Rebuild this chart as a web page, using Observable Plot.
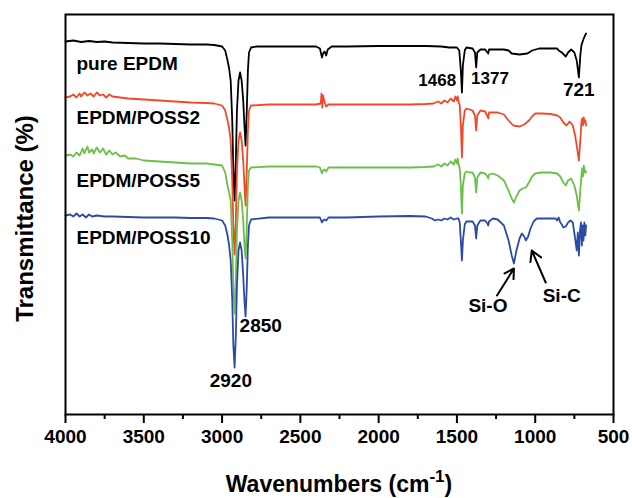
<!DOCTYPE html>
<html>
<head>
<meta charset="utf-8">
<script src="https://cdn.jsdelivr.net/npm/d3@7"></script>
<script src="https://cdn.jsdelivr.net/npm/@observablehq/plot@0.6"></script>
<style>
  body { margin: 0; background: #fff; font-family: "Liberation Sans", Arial, sans-serif; }
  #chart { position: relative; width: 632px; height: 498px; }
  #xtitle { position: absolute; left: 0; top: 473px; width: 632px; box-sizing: border-box; padding-left: 65px; padding-right: 19px; text-align: center;
            font-weight: bold; font-size: 23px; line-height: 23px; color: #000; white-space: nowrap; }
  #xtitle sup { font-size: 17px; vertical-align: baseline; position: relative; top: -10px; }
</style>
</head>
<body>
<div id="chart"></div>
<script>
// ---- Data (wavenumber cm^-1, offset transmittance in arbitrary units) ----
const seriesNames = ["pure EPDM", "EPDM/POSS2", "EPDM/POSS5", "EPDM/POSS10"];
const seriesColors = ["#000000", "#f04a2a", "#6cbf48", "#2c4aa6"];

const pureEPDM = [[4000,381],[3950,382],[3900,380.5],[3850,381.5],[3800,380.5],[3750,381],[3700,380],[3600,379.5],[3500,379],[3400,379],[3300,378.5],[3200,378],[3100,378],[3050,377.5],[3000,376],[2980,372],[2965,362],[2955,354],[2945,342],[2935,302],[2928,252],[2920,222],[2912,262],[2905,312],[2895,342],[2885,350],[2875,342],[2865,322],[2857,297],[2850,277],[2843,307],[2835,352],[2828,370],[2815,375],[2780,376],[2700,376],[2500,376],[2400,376],[2375,374],[2362,365],[2355,369],[2345,371],[2335,367],[2325,373],[2300,376],[2200,376],[2000,376.5],[1800,376.5],[1700,376.5],[1600,376],[1550,375],[1500,375],[1485,372],[1475,352],[1468,330],[1462,357],[1450,372],[1440,375],[1400,374],[1385,370],[1377,355],[1370,370],[1350,373],[1320,373],[1305,370],[1300,369],[1295,373],[1250,373],[1200,373],[1170,372],[1150,369],[1100,368],[1050,369],[1020,372],[975,374],[900,374],[860,374],[850,372],[830,370],[805,366],[790,370],[770,373],[750,370],[735,362],[721,345],[712,367],[705,377],[695,382],[685,386],[675,389]];

const poss2 = [[4000,325],[3970,326],[3950,328],[3930,325],[3910,329],[3900,326],[3880,330],[3860,327],[3840,329],[3820,326],[3800,330],[3780,327],[3760,328],[3740,325],[3720,328],[3700,326],[3650,325],[3600,324],[3500,323],[3400,322],[3300,321],[3200,320],[3100,319.5],[3050,319],[3000,317],[2980,312],[2965,302],[2955,294],[2945,282],[2935,242],[2928,197],[2920,168],[2912,202],[2905,252],[2895,282],[2885,290],[2875,282],[2865,262],[2857,237],[2850,217],[2843,247],[2835,292],[2828,312],[2815,317],[2700,318],[2500,318],[2400,318],[2370,319],[2365,329],[2360,315],[2355,327],[2345,320],[2335,316],[2320,318],[2200,318],[2000,318],[1800,318],[1700,318.5],[1650,319],[1620,321],[1600,319],[1580,322],[1560,320],[1540,324],[1520,321],[1510,326],[1500,322],[1495,326],[1490,321],[1482,317],[1475,297],[1468,265],[1462,297],[1450,312],[1440,314],[1420,313],[1400,312],[1385,307],[1377,292],[1370,307],[1350,312],[1320,311],[1305,306],[1300,304],[1295,310],[1270,310],[1240,310],[1200,308],[1170,302],[1140,297],[1100,296],[1070,298],[1040,302],[1020,306],[1000,309],[960,309],[900,308.5],[860,307],[840,305],[820,300],[800,297],[780,301],[760,297],[745,287],[730,272],[721,262],[712,282],[705,300],[700,304],[695,297],[690,305],[685,300],[680,302],[675,297]];

const poss5 = [[4000,267],[3970,268],[3950,266],[3930,270],[3910,267],[3890,274],[3880,269],[3860,276],[3850,270],[3830,273],[3820,269],[3800,275],[3780,270],[3760,274],[3740,268],[3720,272],[3700,268],[3680,270],[3650,266],[3620,267],[3600,264],[3550,264],[3500,262],[3400,261],[3300,260],[3200,259],[3100,259],[3050,258],[3000,257],[2980,250],[2965,237],[2955,230],[2945,222],[2935,182],[2928,137],[2920,109],[2912,142],[2905,192],[2895,222],[2885,230],[2875,222],[2865,202],[2857,177],[2850,164],[2843,192],[2835,237],[2828,252],[2815,255],[2700,256],[2500,256],[2400,256],[2375,255],[2362,249],[2355,252],[2345,253],[2335,251],[2320,255],[2200,255],[2000,255],[1800,255],[1700,255.5],[1650,256],[1620,258],[1600,256],[1580,259],[1560,257],[1540,261],[1520,258],[1510,263],[1500,259],[1495,264],[1490,259],[1482,254],[1475,237],[1468,209],[1462,237],[1450,249],[1440,251],[1420,250],[1400,250],[1385,245],[1377,230],[1370,245],[1350,250],[1320,249],[1305,246],[1300,244],[1295,248],[1270,249],[1240,247],[1200,242],[1170,232],[1150,224],[1136,220],[1120,226],[1100,232],[1080,234],[1060,235],[1040,240],[1020,246],[1000,249],[960,250],[900,250],[860,249],[840,246],[820,240],[805,237],[790,242],[770,244],[750,237],[735,227],[721,212],[712,232],[705,247],[700,254],[695,246],[690,257],[685,250],[680,252],[675,250]];

const poss10 = [[4000,207],[3970,208],[3950,206],[3930,209],[3910,206],[3890,208],[3870,205],[3850,208],[3830,206],[3800,207],[3750,206],[3700,206],[3600,205.5],[3500,205],[3400,205],[3300,205],[3200,204.5],[3100,204.5],[3050,204],[3000,202],[2980,197],[2965,187],[2955,177],[2945,162],[2935,122],[2928,77],[2920,55],[2912,87],[2905,137],[2895,172],[2885,180],[2875,172],[2865,147],[2857,122],[2850,106],[2843,132],[2835,177],[2828,197],[2815,203],[2700,205],[2500,205],[2400,205],[2375,205],[2362,200],[2355,202],[2345,203],[2335,202],[2320,205],[2200,205],[2000,206],[1800,206.5],[1700,206],[1660,204],[1640,202],[1620,203],[1600,202],[1580,204],[1560,203],[1540,205],[1520,203],[1500,204],[1490,204],[1482,200],[1475,182],[1468,162],[1462,182],[1450,198],[1440,201],[1420,201],[1400,201],[1385,197],[1377,184],[1370,197],[1350,202],[1320,202],[1305,199],[1300,197],[1295,201],[1270,204],[1240,203],[1200,197],[1170,182],[1150,167],[1136,159],[1120,172],[1100,184],[1085,189],[1070,186],[1060,182],[1045,186],[1030,194],[1010,201],[990,204],[950,204],[900,204],[870,204],[860,202],[850,205],[840,200],[830,198],[820,195],[805,196],[790,200],[775,202],[760,200],[745,184],[735,172],[728,190],[721,167],[714,192],[708,200],[702,177],[697,197],[692,182],[686,200],[680,187],[675,197]];

const seriesData = [pureEPDM, poss2, poss5, poss10];

// series label anchors (wavenumber, value)
const seriesLabelWn = [3930, 3930, 3930, 3930];
const seriesLabelT = [359, 305, 242, 185];

// peak annotations
const peakText = ["2920", "2850", "Si-O", "Si-C", "721"];
const peakWn = [2944, 2753, 1302, 831, 722];
const peakT = [42, 97, 117, 127, 333];
const rightPeakText = ["1377"];
const rightPeakWn = [1410];
const rightPeakT = [344];
const leftPeakText = ["1468"];
const leftPeakWn = [1505];
const leftPeakT = [342];

// arrows [fromWn, fromT, toWn, toT]
const arrowFrom = [[1244, 127], [933, 140]];
const arrowTo = [[1136, 154], [1022, 172]];

const majorTicks = [4000, 3500, 3000, 2500, 2000, 1500, 1000, 500];
const minorTicks = [3750, 3250, 2750, 2250, 1750, 1250, 750];

// ---- Build ----
const lineMarks = seriesData.map((s, i) =>
  Plot.line(s, {x: d => d[0], y: d => d[1], stroke: seriesColors[i], strokeWidth: 1.8})
);
const seriesLabels = seriesNames.map((n, i) => ({t: n, x: seriesLabelWn[i], y: seriesLabelT[i]}));
const peaks = peakText.map((t, i) => ({t, x: peakWn[i], y: peakT[i]}));
const rightPeaks = rightPeakText.map((t, i) => ({t, x: rightPeakWn[i], y: rightPeakT[i]}));
const leftPeaks = leftPeakText.map((t, i) => ({t, x: leftPeakWn[i], y: leftPeakT[i]}));
const arrows = arrowFrom.map((f, i) => ({x1: f[0], y1: f[1], x2: arrowTo[i][0], y2: arrowTo[i][1]}));

const plot = Plot.plot({
  width: 632,
  height: 460,
  marginTop: 14,
  marginBottom: 46,
  marginLeft: 65,
  marginRight: 19,
  style: {fontFamily: "'Liberation Sans', Arial, sans-serif", fontWeight: "bold", color: "#000", background: "#fff", overflow: "visible"},
  x: {domain: [4000, 500]},
  y: {domain: [8, 408], axis: null},
  marks: [
    Plot.axisX({ticks: minorTicks, tickSize: 5, strokeWidth: 2, tickFormat: () => "", label: null}),
    Plot.axisX({ticks: majorTicks, tickSize: 9, strokeWidth: 2, tickPadding: 6, tickFormat: d => String(d), fontSize: 19, fontWeight: "bold", label: null}),
    ...lineMarks,
    Plot.text(seriesLabels, {x: "x", y: "y", text: "t", textAnchor: "start", fontSize: 19, fontWeight: "bold"}),
    Plot.text(peaks, {x: "x", y: "y", text: "t", textAnchor: "middle", fontSize: 19, fontWeight: "bold"}),
    Plot.text(rightPeaks, {x: "x", y: "y", text: "t", textAnchor: "start", fontSize: 17, fontWeight: "bold"}),
    Plot.text(leftPeaks, {x: "x", y: "y", text: "t", textAnchor: "end", fontSize: 17, fontWeight: "bold"}),
    Plot.arrow(arrows, {x1: "x1", y1: "y1", x2: "x2", y2: "y2", stroke: "#000", strokeWidth: 2, headLength: 9}),
    Plot.text(["Transmittance (%)"], {frameAnchor: "left", textAnchor: "middle", rotate: -90, dx: -40, dy: 4, fontSize: 24, fontWeight: "bold"}),
    Plot.frame({stroke: "#000", strokeWidth: 2})
  ]
});
const chart = document.getElementById("chart");
chart.append(plot);
const xt = document.createElement("div");
xt.id = "xtitle";
xt.innerHTML = "Wavenumbers (cm<sup>-1</sup>)";
chart.append(xt);
</script>
</body>
</html>
